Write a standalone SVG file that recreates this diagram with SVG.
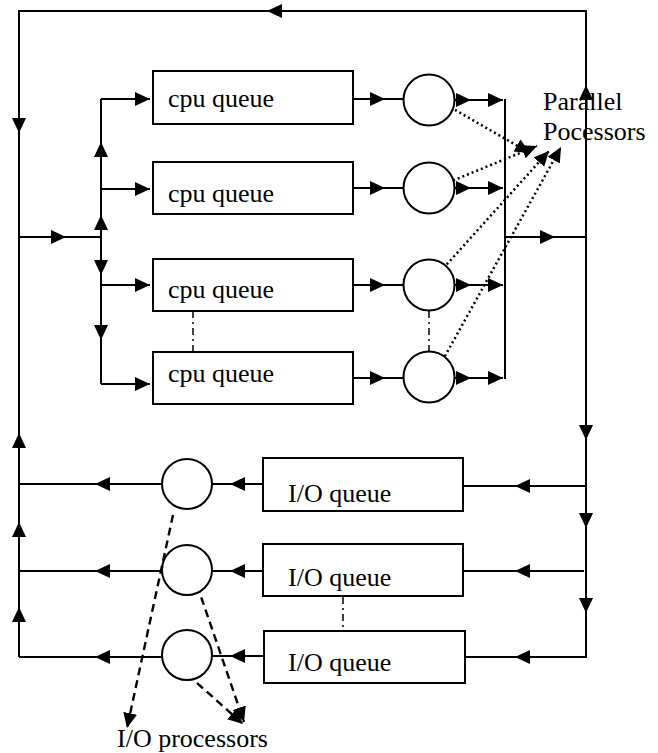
<svg xmlns="http://www.w3.org/2000/svg" width="658" height="753" viewBox="0 0 658 753">
<style>
.ln{fill:none;stroke:#000;stroke-width:2}
.ar{fill:none;stroke:#000;stroke-width:2;marker-end:url(#ah)}
.box{fill:#fff;stroke:#000;stroke-width:2}
.cir{fill:#fff;stroke:#000;stroke-width:2}
.dd{fill:none;stroke:#000;stroke-width:1.5;stroke-dasharray:7,4,2,4}
.dot{fill:none;stroke:#000;stroke-width:2.5;stroke-dasharray:2,3;marker-end:url(#ah)}
.dash{fill:none;stroke:#000;stroke-width:2.4;stroke-dasharray:8,5;marker-end:url(#ah)}
text{font-family:"Liberation Serif","Times New Roman",serif;font-size:26px;fill:#000}
</style>
<defs>
<marker id="ah" markerUnits="userSpaceOnUse" markerWidth="17" markerHeight="15" refX="15" refY="7" orient="auto">
<path d="M0,0 L15,7 L0,14 z" fill="#000"/>
</marker>
</defs>
<rect width="658" height="753" fill="#fff"/>
<g id="connectors">
<path class="ar" d="M586,237 V85"/>
<path class="ln" d="M586,85 V11 H267"/>
<path class="ar" d="M300,11 H267"/>
<path class="ln" d="M267,11 H19 V120"/>
<path class="ar" d="M19,110 V133"/>
<path class="ln" d="M19,133 V237"/>
<path class="ln" d="M19,657 V607"/>
<path class="ar" d="M19,640 V607"/>
<path class="ar" d="M19,571 V522"/>
<path class="ar" d="M19,484 V433"/>
<path class="ln" d="M19,607 V237"/>
<path class="ar" d="M19,237 H66"/>
<path class="ln" d="M66,237 H101"/>
<path class="ar" d="M101,237 V215"/>
<path class="ar" d="M101,215 V142"/>
<path class="ln" d="M101,142 V99"/>
<path class="ar" d="M101,99 H150"/>
<path class="ar" d="M101,189 H150"/>
<path class="ar" d="M101,237 V275"/>
<path class="ar" d="M101,275 V340"/>
<path class="ln" d="M101,340 V384"/>
<path class="ar" d="M101,285 H150"/>
<path class="ar" d="M101,384 H150"/>
<path class="ar" d="M353,99 H385"/><path class="ln" d="M385,99 H404"/>
<path class="ar" d="M353,188 H385"/><path class="ln" d="M385,188 H404"/>
<path class="ar" d="M353,285 H385"/><path class="ln" d="M385,285 H404"/>
<path class="ar" d="M353,378 H385"/><path class="ln" d="M385,378 H404"/>
<path class="ar" d="M454,100 H471"/><path class="ar" d="M471,100 H503"/>
<path class="ar" d="M454,188 H471"/><path class="ar" d="M471,188 H503"/>
<path class="ar" d="M454,285 H471"/><path class="ar" d="M471,285 H503"/>
<path class="ar" d="M454,378 H471"/><path class="ar" d="M471,378 H503"/>
<path class="ln" d="M505,99 V379"/>
<path class="ar" d="M505,237 H555"/>
<path class="ln" d="M555,237 H586"/>
<path class="ar" d="M586,237 V440"/>
<path class="ar" d="M586,440 V528"/>
<path class="ar" d="M586,528 V613"/>
<path class="ln" d="M586,613 V657 H515"/>
<path class="ar" d="M586,657 H515"/>
<path class="ln" d="M515,657 H465"/>
<path class="ar" d="M586,486 H515"/><path class="ln" d="M515,486 H463"/>
<path class="ar" d="M584,571 H515"/><path class="ln" d="M515,571 H463"/>
<path class="ar" d="M263,484 H230"/><path class="ln" d="M230,484 H212"/>
<path class="ar" d="M263,571 H230"/><path class="ln" d="M230,571 H212"/>
<path class="ar" d="M264,656 H230"/><path class="ln" d="M230,656 H212"/>
<path class="ar" d="M162,484 H95"/><path class="ln" d="M95,484 H19"/>
<path class="ar" d="M162,571 H95"/><path class="ln" d="M95,571 H19"/>
<path class="ar" d="M162,657 H95"/><path class="ln" d="M95,657 H19"/>
<path class="dd" d="M193,311 V352"/>
<path class="dd" d="M429,311 V351"/>
<path class="dd" d="M343,597 V631"/>
<path class="dot" d="M429,95 L530,153"/>
<path class="dot" d="M430,190 L537,146"/>
<path class="dot" d="M430,283 L549,151"/>
<path class="dot" d="M440,365 L561,147"/>
<path class="dash" d="M173,515 L127,728"/>
<path class="dash" d="M197,585 L244,722"/>
<path class="dash" d="M197,683 L243,724"/>
</g>
<g id="cpu1"><rect class="box" x="153" y="71" width="200" height="53"/><text x="168" y="107">cpu queue</text></g>
<g id="cpu2"><rect class="box" x="153" y="162" width="200" height="52"/><text x="168" y="202">cpu queue</text></g>
<g id="cpu3"><rect class="box" x="153" y="259" width="200" height="52"/><text x="168" y="298">cpu queue</text></g>
<g id="cpu4"><rect class="box" x="153" y="352" width="200" height="52"/><text x="168" y="382">cpu queue</text></g>
<g id="proc1"><circle class="cir" cx="429" cy="100" r="25.5"/></g>
<g id="proc2"><circle class="cir" cx="429" cy="188" r="25.5"/></g>
<g id="proc3"><circle class="cir" cx="429" cy="285" r="25.5"/></g>
<g id="proc4"><circle class="cir" cx="429" cy="377" r="25.5"/></g>
<g id="io1"><rect class="box" x="263" y="458" width="200" height="53"/><text x="288" y="502">I/O queue</text></g>
<g id="io2"><rect class="box" x="263" y="544" width="200" height="52"/><text x="288" y="586">I/O queue</text></g>
<g id="io3"><rect class="box" x="264" y="631" width="201" height="52"/><text x="288" y="671">I/O queue</text></g>
<g id="ioproc1"><circle class="cir" cx="187" cy="484" r="25"/></g>
<g id="ioproc2"><circle class="cir" cx="187" cy="570" r="25"/></g>
<g id="ioproc3"><circle class="cir" cx="187" cy="655" r="25"/></g>
<g id="label-parallel"><text x="543" y="110">Parallel</text><text x="543" y="140">Pocessors</text></g>
<g id="label-io"><text x="117" y="747">I/O processors</text></g>
</svg>
